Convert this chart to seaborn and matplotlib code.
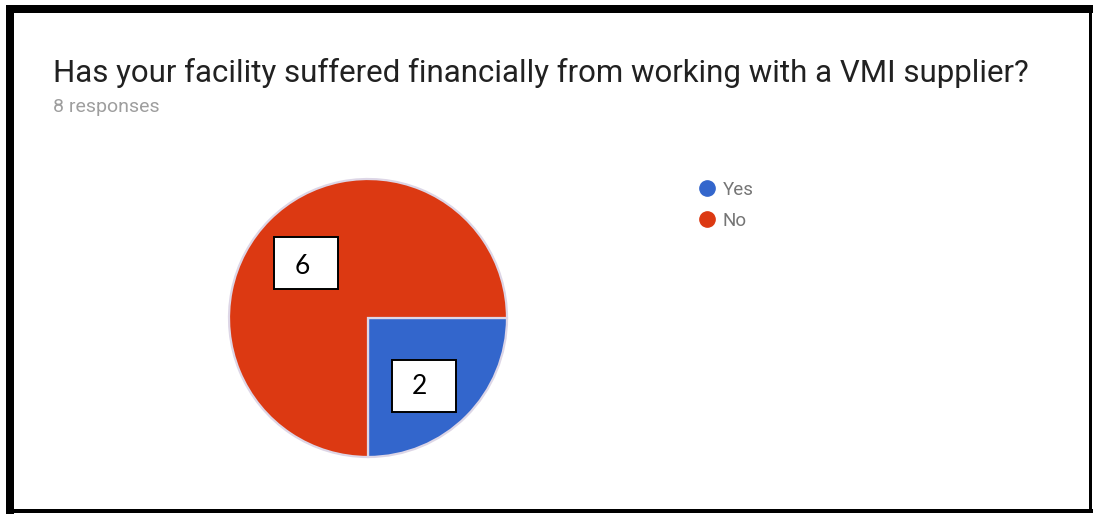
import matplotlib
matplotlib.use("Agg")
import matplotlib.pyplot as plt
from matplotlib.patches import Rectangle
from matplotlib.lines import Line2D
import seaborn as sns

# Survey answers
categories = ["Yes", "No"]
counts = [2, 6]
question = "Has your facility suffered financially from working with a VMI supplier?"
subtitle = "8 responses"

sns.set_theme(style="white")
plt.rcParams["font.family"] = ["Roboto", "DejaVu Sans"]
palette = sns.color_palette(["#3366cc", "#dc3912"])

W, H = 1093, 514
fig = plt.figure(figsize=(W / 100, H / 100), dpi=100)
fig.patch.set_facecolor("white")


def px_box(x0, y0, x1, y1):
    """Convert a pixel box (top-left origin) to figure fractions."""
    return [x0 / W, 1 - y1 / H, (x1 - x0) / W, (y1 - y0) / H]


# Screenshot frame
frame_color = "black"
for (x0, y0, x1, y1) in [(7, 5, W, 13), (6, 5, 14, H), (6, 509, W, 513), (1089, 5, 1092, 513)]:
    b = px_box(x0, y0, x1, y1)
    fig.add_artist(Rectangle((b[0], b[1]), b[2], b[3], transform=fig.transFigure,
                             facecolor=frame_color, edgecolor="none", zorder=10))

# Title and response count
fig.text(53 / W, 1 - 82 / H, question, fontsize=22.5, color="#212121",
         ha="left", va="baseline")
fig.text(53 / W, 1 - 112 / H, subtitle, fontsize=14, color="#9e9e9e",
         ha="left", va="baseline")

# Pie
cx, cy, r = 368, 318, 139
ax = fig.add_axes(px_box(cx - r, cy - r, cx + r, cy + r))
total = sum(counts)
wedges, _, autotexts = ax.pie(
    counts, colors=palette, startangle=0, counterclock=False, radius=1,
    autopct=lambda p: f"{round(p * total / 100)}", pctdistance=0.62,
    wedgeprops=dict(edgecolor="#ddd6e6", linewidth=1.6),
)
ax.set_xlim(-1, 1)
ax.set_ylim(-1, 1)
ax.set_axis_off()

# Value boxes: nudges in screen pixels (x right, y down) of each box
# and of the digit inside it
box_nudge = [(-4.5, 7), (-1, 6)]
text_in_box = [(-5, 1), (-4, 3)]
bw, bh = 64 / r, 52 / r
for t, (bx, by), (tx, ty) in zip(autotexts, box_nudge, text_in_box):
    x, y = t.get_position()
    bxc, byc = x + bx / r, y - by / r
    t.set_position((bxc + tx / r, byc - ty / r))
    t.set_fontfamily(["Lato", "DejaVu Sans"])
    t.set_fontsize(19)
    t.set_color("black")
    t.set_zorder(5)
    ax.add_patch(Rectangle((bxc - bw / 2, byc - bh / 2), bw, bh,
                           facecolor="white", edgecolor="black", linewidth=1.4,
                           zorder=4))

# Legend
handles = [Line2D([], [], marker="o", linestyle="none", markersize=11,
                  markerfacecolor=c, markeredgecolor=c) for c in palette]
leg = fig.legend(handles, categories, loc="upper left",
                 bbox_to_anchor=(698 / W, 1 - 181 / H), frameon=False,
                 fontsize=13.5, labelcolor="#757575", handletextpad=0.3,
                 labelspacing=0.67, borderaxespad=0, borderpad=0,
                 handlelength=1.0)

fig.savefig("out.png", dpi=100, facecolor="white")
